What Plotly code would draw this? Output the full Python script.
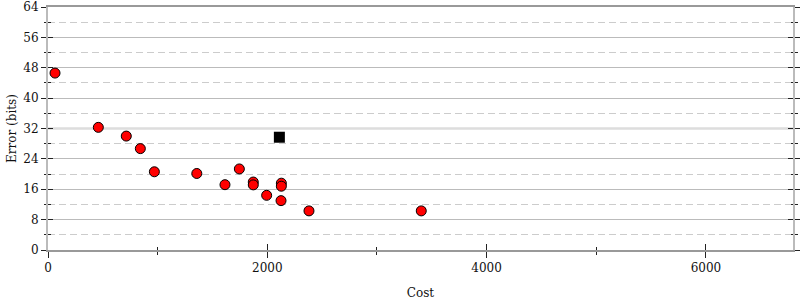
import plotly.graph_objects as go

# Data
cost = [64, 459, 714, 842, 970, 1357, 1614, 1745, 1872, 1872, 1994, 2128, 2128, 2125, 2380, 3404]
error_bits = [46.6, 32.3, 30.0, 26.7, 20.6, 20.15, 17.2, 21.35, 17.9, 17.15, 14.4, 17.6, 16.8, 13.0, 10.3, 10.3]
initial_cost = [2110]
initial_error = [29.7]

x_major = [0, 2000, 4000, 6000]
x_minor = [1000, 3000, 5000]
y_major = [0, 8, 16, 24, 32, 40, 48, 56, 64]
y_minor = [4, 12, 20, 28, 36, 44, 52, 60]
x_range = [0, 6794]
y_range = [0, 64]
reference_bits = 32

FONT = dict(family="DejaVu Serif", size=12, color="#111")

fig = go.Figure()
# light reference line at 32 bits (drawn above the gridlines, below the markers)
fig.add_trace(go.Scatter(
    x=x_range, y=[reference_bits, reference_bits], mode="lines",
    line=dict(color="#dddddd", width=2.5), showlegend=False, hoverinfo="skip"))
fig.add_trace(go.Scatter(
    x=cost, y=error_bits, mode="markers",
    marker=dict(symbol="circle", size=10, color="#ff0000", line=dict(color="#000", width=1)),
    showlegend=False, hoverinfo="skip"))
fig.add_trace(go.Scatter(
    x=initial_cost, y=initial_error, mode="markers",
    marker=dict(symbol="square", size=11, color="#000", line=dict(color="#000", width=0)),
    showlegend=False, hoverinfo="skip"))
# empty trace to create overlay axes for inside tick halves
fig.add_trace(go.Scatter(x=[None], y=[None], xaxis="x2", yaxis="y2", showlegend=False, hoverinfo="skip"))

fig.update_layout(
    width=800, height=300,
    margin=dict(l=48, r=7, t=7, b=50),
    paper_bgcolor="white", plot_bgcolor="white",
    font=FONT,
    xaxis=dict(
        range=x_range, tickmode="array", tickvals=x_major, automargin=False,
        ticks="outside", ticklen=6, tickwidth=1, tickcolor="#222",
        showgrid=False, zeroline=False,
        showline=True, linecolor="#999", linewidth=2, mirror=True,
        minor=dict(tickvals=x_minor, ticks="outside", ticklen=3, tickcolor="#222", showgrid=False),
        title=dict(text="Cost", font=FONT, standoff=14),
        tickfont=FONT,
    ),
    yaxis=dict(
        range=y_range, tickmode="array", tickvals=y_major, automargin=False,
        ticks="outside", ticklen=5, tickwidth=1, tickcolor="#222",
        showgrid=True, gridcolor="#bbbbbb", gridwidth=1,
        zeroline=False,
        showline=True, linecolor="#bbbbbb", linewidth=2, mirror="ticks",
        minor=dict(tickvals=y_minor, ticks="outside", ticklen=2.5, tickcolor="#222",
                   showgrid=True, gridcolor="#cccccc", griddash="7px,4px", gridwidth=1),
        title=dict(text="Error (bits)", font=FONT, standoff=4),
        tickfont=FONT,
    ),
    xaxis2=dict(
        overlaying="x", anchor="y2", range=x_range, tickmode="array", tickvals=x_major, automargin=False,
        ticks="inside", ticklen=6, tickwidth=1, tickcolor="#222",
        showticklabels=False, showgrid=False, zeroline=False, showline=False,
        minor=dict(tickvals=x_minor, ticks="inside", ticklen=3, tickcolor="#222", showgrid=False),
    ),
    yaxis2=dict(
        overlaying="y", anchor="x2", range=y_range, tickmode="array", tickvals=y_major, automargin=False,
        ticks="inside", ticklen=5, tickwidth=1, tickcolor="#222", mirror="ticks",
        showticklabels=False, showgrid=False, zeroline=False, showline=False,
        minor=dict(tickvals=y_minor, ticks="inside", ticklen=2.5, tickcolor="#222", showgrid=False),
    ),
)

fig.write_html("out.html")
